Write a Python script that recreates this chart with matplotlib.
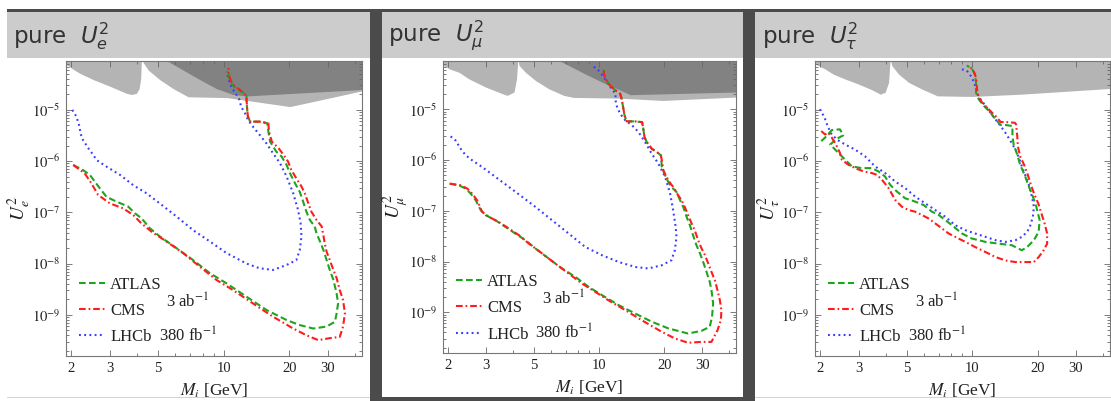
import math
import matplotlib.pyplot as plt
from matplotlib.patches import Rectangle
from matplotlib.lines import Line2D
from matplotlib.ticker import FixedLocator, FixedFormatter, LogLocator, NullFormatter

plt.rcParams['font.family'] = ['Liberation Serif', 'DejaVu Serif']
plt.rcParams['mathtext.fontset'] = 'stix'

# ---- data: (M_i [GeV], U^2) ----
flavours = ['e', r'\mu', r'\tau']
xticks = [2, 3, 5, 10, 20, 30]
yticks = [1e-9, 1e-8, 1e-7, 1e-6, 1e-5]
lumi_hl = r'3 ab$^{-1}$'
lumi_lhcb = r'380 fb$^{-1}$'

# pure U_e^2
e_atlas = [(2.04, 8.4e-7), (2.26, 6.7e-7), (2.43, 5.4e-7), (2.56, 4.0e-7), (2.70, 2.95e-7),
           (2.90, 2.0e-7), (3.22, 1.62e-7), (3.64, 1.3e-7), (3.91, 9.6e-8), (4.19, 7.7e-8),
           (4.58, 4.9e-8), (5.08, 3.4e-8), (6.07, 2.0e-8), (7.23, 1.17e-8), (8.63, 6.5e-9),
           (10.3, 4.1e-9), (12.7, 2.26e-9), (15.7, 1.24e-9), (19.4, 7.9e-10), (22.3, 6.3e-10),
           (25.7, 5.4e-10), (29.6, 5.9e-10), (32.3, 7.3e-10), (32.9, 1.07e-9), (33.4, 1.67e-9),
           (32.9, 2.6e-9), (31.8, 4.8e-9), (30.6, 7.5e-9), (29.6, 1.17e-8), (28.6, 1.85e-8),
           (27.6, 2.7e-8), (26.6, 3.9e-8), (26.1, 5.3e-8), (24.8, 7.1e-8), (23.9, 1.03e-7),
           (23.1, 1.62e-7), (22.3, 2.5e-7), (21.2, 3.7e-7), (20.1, 5.8e-7), (19.4, 8.4e-7),
           (18.4, 1.23e-6), (17.4, 1.53e-6), (16.3, 2.4e-6), (16.0, 3.8e-6), (15.8, 5.5e-6),
           (14.6, 5.9e-6), (13.2, 5.9e-6), (12.9, 7.4e-6), (12.8, 1e-5), (12.7, 1.57e-5),
           (12.7, 2.0e-5), (12.0, 2.3e-5), (11.4, 2.6e-5), (10.8, 3.3e-5), (10.6, 4.2e-5),
           (10.5, 6.5e-5)]
e_cms = [(2.04, 8.4e-7), (2.30, 5.8e-7), (2.47, 3.7e-7), (2.65, 2.2e-7), (3.00, 1.5e-7),
         (3.45, 1.2e-7), (3.84, 8.9e-8), (4.19, 6.1e-8), (4.66, 4.2e-8), (5.46, 2.7e-8),
         (6.51, 1.6e-8), (7.76, 8.7e-9), (9.25, 4.8e-9), (11.0, 3.05e-9), (13.6, 1.67e-9),
         (16.8, 9.2e-10), (20.8, 5.4e-10), (23.9, 4.0e-10), (27.1, 3.2e-10), (30.6, 3.5e-10),
         (34.0, 3.7e-10), (35.2, 5.9e-10), (35.9, 1.07e-9), (35.2, 1.95e-9), (34.0, 3.05e-9),
         (32.9, 5.2e-9), (31.8, 7.5e-9), (30.6, 1.17e-8), (29.6, 1.7e-8), (29.0, 2.5e-8),
         (28.6, 3.6e-8), (28.1, 5.3e-8), (26.6, 7.1e-8), (25.2, 1.03e-7), (24.4, 1.5e-7),
         (23.5, 2.36e-7), (22.7, 3.2e-7), (21.5, 4.6e-7), (20.4, 6.7e-7), (19.7, 9.8e-7),
         (18.8, 1.32e-6), (17.8, 1.8e-6), (16.6, 2.4e-6), (16.1, 3.8e-6), (16.0, 5.5e-6),
         (14.6, 5.9e-6), (13.2, 5.9e-6), (12.9, 7.4e-6), (12.8, 1e-5), (12.7, 1.7e-5),
         (12.5, 2.0e-5), (11.8, 2.5e-5), (11.2, 2.9e-5), (10.8, 3.6e-5), (10.5, 5.2e-5),
         (10.5, 6.5e-5)]
e_lhcb = [(2.02, 1e-5), (2.11, 7.4e-6), (2.18, 4.7e-6), (2.20, 3.5e-6), (2.26, 2.6e-6),
          (2.39, 1.8e-6), (2.52, 1.32e-6), (2.61, 1.05e-6), (2.90, 7.8e-7), (3.34, 5.4e-7),
          (3.84, 3.4e-7), (4.42, 2.36e-7), (5.08, 1.5e-7), (6.07, 8.3e-8), (7.23, 4.5e-8),
          (8.63, 2.7e-8), (10.3, 1.6e-8), (12.7, 1.0e-8), (14.6, 8.1e-9), (16.8, 7.5e-9),
          (19.4, 9.4e-9), (21.5, 1.17e-8), (22.3, 1.85e-8), (22.7, 3.4e-8), (22.5, 6.1e-8),
          (21.9, 1.11e-7), (20.8, 2.36e-7), (19.4, 5.0e-7), (18.1, 9.1e-7), (16.8, 1.43e-6),
          (15.7, 2.2e-6), (14.6, 3.25e-6), (13.6, 4.7e-6), (12.9, 6.4e-6), (12.5, 8.6e-6),
          (12.0, 1.16e-5), (11.8, 1.57e-5), (11.4, 2.0e-5), (11.0, 2.5e-5), (10.7, 3.1e-5),
          (10.5, 4.2e-5), (10.3, 5.6e-5)]
e_excl_light = [(1.88, 7.9e-5), (2.04, 6.2e-5), (2.18, 5.2e-5), (2.52, 3.9e-5), (3.00, 2.9e-5),
                (3.58, 2.1e-5), (3.77, 2.0e-5), (3.97, 2.1e-5), (4.09, 2.6e-5), (4.16, 4.2e-5),
                (4.19, 1e-4), (4.24, 8.8e-5), (4.50, 6.0e-5), (5.08, 3.9e-5), (5.86, 2.6e-5),
                (6.86, 1.8e-5), (10.3, 1.74e-5), (20.1, 1.16e-5), (43, 2.35e-5)]
e_excl_dark = [(5.27, 1e-4), (7.76, 3.9e-5), (9.25, 2.6e-5), (11.0, 2.0e-5), (12.7, 1.87e-5),
               (43, 2.5e-5)]

# pure U_mu^2
mu_atlas = [(2.03, 3.43e-7), (2.24, 3.18e-7), (2.41, 2.74e-7), (2.54, 2.18e-7), (2.68, 1.61e-7),
            (2.83, 1.02e-7), (2.98, 8.2e-8), (3.31, 6.5e-8), (3.68, 4.8e-8), (4.09, 3.56e-8),
            (4.55, 2.63e-8), (5.07, 1.8e-8), (5.84, 1.14e-8), (6.72, 7.3e-9), (7.75, 4.98e-9),
            (8.93, 3.16e-9), (10.3, 2.17e-9), (12.3, 1.38e-9), (14.7, 9.4e-10), (17.5, 6.5e-10),
            (20.9, 4.8e-10), (24.1, 4.1e-10), (25.8, 3.8e-10), (29.8, 4.3e-10), (32.5, 5.15e-10),
            (33.3, 8.1e-10), (33.7, 1.49e-9), (33.1, 2.72e-9), (32.5, 3.97e-9), (31.4, 6.25e-9),
            (30.3, 9.8e-9), (29.3, 1.44e-8), (28.2, 2.1e-8), (27.2, 3.3e-8), (26.3, 5.2e-8),
            (25.4, 7.6e-8), (24.5, 1.19e-7), (23.7, 1.61e-7), (22.8, 2.35e-7), (21.6, 2.95e-7),
            (20.9, 3.7e-7), (20.2, 5.0e-7), (19.5, 7.3e-7), (19.3, 1.24e-6), (18.5, 1.44e-6),
            (17.5, 1.68e-6), (16.6, 2.27e-6), (16.2, 2.85e-6), (16.0, 4.16e-6), (15.8, 5.6e-6),
            (14.7, 5.8e-6), (13.4, 5.8e-6), (13.1, 7.6e-6), (12.9, 1.11e-5), (12.7, 1.62e-5),
            (12.5, 2.04e-5), (11.9, 2.37e-5), (11.2, 2.97e-5), (10.7, 4.0e-5), (10.5, 5.0e-5),
            (10.5, 6.3e-5)]
mu_cms = [(2.03, 3.43e-7), (2.28, 3.18e-7), (2.45, 2.74e-7), (2.58, 2.18e-7), (2.72, 1.61e-7),
          (2.87, 9.5e-8), (3.08, 7.6e-8), (3.43, 6.0e-8), (3.82, 4.46e-8), (4.25, 3.3e-8),
          (4.72, 2.26e-8), (5.44, 1.44e-8), (6.26, 9.1e-9), (7.22, 5.8e-9), (8.32, 3.68e-9),
          (9.59, 2.52e-9), (11.0, 1.73e-9), (13.2, 1.1e-9), (15.7, 7.0e-10), (19.5, 4.1e-10),
          (22.4, 3.04e-10), (25.8, 2.5e-10), (29.8, 2.6e-10), (33.1, 2.6e-10), (35.3, 4.4e-10),
          (36.6, 7.0e-10), (36.8, 1.1e-9), (36.2, 1.73e-9), (35.3, 2.72e-9), (34.3, 4.3e-9),
          (33.1, 6.25e-9), (32.0, 9.1e-9), (30.9, 1.33e-8), (29.8, 1.8e-8), (28.7, 2.63e-8),
          (27.7, 4.14e-8), (26.8, 5.6e-8), (25.8, 8.2e-8), (24.9, 1.19e-7), (24.1, 1.61e-7),
          (23.2, 2.02e-7), (22.3, 2.74e-7), (21.3, 3.54e-7), (20.5, 4.65e-7), (19.8, 6.3e-7),
          (19.5, 9.9e-7), (19.3, 1.24e-6), (18.5, 1.44e-6), (17.5, 1.68e-6), (16.6, 2.27e-6),
          (16.2, 2.85e-6), (16.0, 4.16e-6), (15.8, 5.6e-6), (14.7, 5.8e-6), (13.4, 5.8e-6),
          (13.1, 7.6e-6), (12.9, 1.11e-5), (12.7, 1.62e-5), (12.5, 2.04e-5), (11.9, 2.37e-5),
          (11.2, 2.97e-5), (10.7, 4.0e-5), (10.5, 5.0e-5), (10.5, 6.3e-5)]
mu_lhcb = [(2.05, 2.94e-6), (2.16, 2.45e-6), (2.28, 1.68e-6), (2.41, 1.24e-6), (2.58, 9.9e-7),
           (2.87, 7.3e-7), (3.31, 4.65e-7), (3.82, 2.95e-7), (4.40, 1.88e-7), (5.07, 1.19e-7),
           (6.05, 6.5e-8), (7.22, 3.56e-8), (8.61, 1.94e-8), (10.3, 1.33e-8), (12.3, 9.8e-9),
           (14.7, 7.8e-9), (16.9, 7.3e-9), (19.5, 8.45e-9), (21.6, 1.06e-8), (22.4, 1.67e-8),
           (22.8, 3.06e-8), (22.6, 4.8e-8), (22.0, 1.02e-7), (21.3, 2.18e-7), (20.2, 4.65e-7),
           (18.8, 8.5e-7), (17.5, 1.34e-6), (16.3, 2.27e-6), (15.2, 3.58e-6), (14.2, 4.84e-6),
           (13.2, 6.1e-6), (12.5, 8.2e-6), (12.1, 1.11e-5), (11.9, 1.5e-5), (11.9, 2.04e-5),
           (11.4, 2.55e-5), (11.0, 3.2e-5), (10.5, 4.3e-5), (9.93, 5.85e-5), (9.25, 7.4e-5)]
mu_excl_light = [(1.87, 7.7e-5), (2.02, 6.3e-5), (2.24, 5.4e-5), (2.49, 4.0e-5), (2.98, 2.75e-5),
                 (3.56, 2.04e-5), (3.75, 1.89e-5), (4.03, 2.2e-5), (4.14, 4.0e-5), (4.20, 1e-4),
                 (4.25, 7.4e-5), (4.55, 5.4e-5), (5.07, 3.7e-5), (5.84, 2.55e-5), (6.84, 1.89e-5),
                 (7.62, 1.72e-5), (12.3, 1.67e-5), (19.7, 1.5e-5), (43, 1.75e-5)]
mu_excl_dark = [(6.27, 1e-4), (8.61, 5.0e-5), (10.3, 3.45e-5), (12.1, 2.55e-5), (13.9, 1.95e-5),
                (43, 2.2e-5)]

# pure U_tau^2
tau_atlas = [(2.02, 2.46e-6), (2.10, 2.86e-6), (2.26, 4.04e-6), (2.46, 4.17e-6), (2.55, 3.18e-6),
             (2.38, 2.73e-6), (2.22, 2.11e-6), (2.42, 1.45e-6), (2.60, 1.07e-6), (2.79, 7.9e-7),
             (3.10, 7.3e-7), (3.45, 7.3e-7), (3.70, 6.3e-7), (3.97, 5.0e-7), (4.19, 3.45e-7),
             (4.50, 2.55e-7), (4.91, 1.88e-7), (5.46, 1.62e-7), (5.97, 1.39e-7), (6.52, 1.03e-7),
             (7.00, 8.9e-8), (7.51, 7.1e-8), (8.06, 5.6e-8), (8.96, 3.87e-8), (9.96, 3.08e-8),
             (11.5, 2.65e-8), (13.2, 2.45e-8), (15.2, 2.28e-8), (16.9, 1.82e-8), (17.9, 2.11e-8),
             (19.2, 2.86e-8), (20.2, 4.17e-8), (20.4, 7.1e-8), (19.7, 1.29e-7), (19.0, 2.03e-7),
             (18.2, 3.2e-7), (17.4, 5.4e-7), (16.6, 8.5e-7), (16.1, 1.34e-6), (15.5, 2.11e-6),
             (15.3, 3.08e-6), (15.3, 4.84e-6), (14.2, 5.07e-6), (13.5, 5.07e-6), (12.8, 6.5e-6),
             (12.1, 8.9e-6), (11.3, 1.2e-5), (10.7, 1.62e-5), (10.4, 2.2e-5), (10.4, 3.45e-5),
             (10.3, 5.0e-5), (9.96, 6.3e-5), (9.44, 7.35e-5)]
tau_cms = [(2.02, 3.86e-6), (2.10, 3.32e-6), (2.18, 3.58e-6), (2.26, 2.86e-6), (2.38, 1.96e-6),
           (2.46, 1.45e-6), (2.51, 1.07e-6), (2.69, 8.5e-7), (2.89, 7.3e-7), (3.16, 6.3e-7),
           (3.45, 5.85e-7), (3.64, 5.4e-7), (3.84, 4.33e-7), (4.12, 2.97e-7), (4.42, 1.75e-7),
           (4.74, 1.29e-7), (5.09, 1.11e-7), (5.46, 1.03e-7), (5.86, 8.9e-8), (6.29, 7.6e-8),
           (6.75, 6.1e-8), (7.25, 4.84e-8), (7.78, 3.87e-8), (8.35, 3.32e-8), (9.29, 2.65e-8),
           (10.3, 2.11e-8), (11.5, 1.68e-8), (12.8, 1.34e-8), (14.2, 1.15e-8), (15.8, 1.07e-8),
           (17.5, 1.07e-8), (19.2, 1.07e-8), (20.2, 1.34e-8), (21.3, 1.82e-8), (22.1, 2.45e-8),
           (22.1, 3.87e-8), (21.5, 6.1e-8), (20.8, 9.5e-8), (20.1, 1.5e-7), (19.2, 2.36e-7),
           (18.5, 3.72e-7), (17.9, 5.85e-7), (17.3, 8.5e-7), (16.6, 1.24e-6), (16.2, 1.96e-6),
           (16.1, 3.08e-6), (15.9, 5.2e-6), (15.7, 5.6e-6), (14.2, 5.8e-6), (13.5, 5.8e-6),
           (13.0, 7.1e-6), (12.3, 8.9e-6), (11.7, 1.11e-5), (11.1, 1.39e-5), (10.6, 1.88e-5),
           (10.5, 2.76e-5), (10.4, 4.3e-5), (10.1, 5.85e-5), (9.80, 6.8e-5)]
tau_lhcb = [(1.99, 1.03e-5), (2.09, 7.1e-6), (2.16, 4.84e-6), (2.24, 3.48e-6), (2.38, 2.65e-6),
            (2.60, 2.11e-6), (2.89, 1.68e-6), (3.21, 1.24e-6), (3.57, 7.9e-7), (3.97, 5.85e-7),
            (4.42, 4.0e-7), (4.91, 2.97e-7), (5.46, 2.03e-7), (6.07, 1.5e-7), (6.75, 1.11e-7),
            (7.51, 8.2e-8), (8.35, 5.6e-8), (9.29, 4.49e-8), (10.3, 3.87e-8), (11.5, 3.32e-8),
            (12.8, 2.86e-8), (14.2, 2.65e-8), (15.8, 2.86e-8), (16.9, 3.32e-8), (17.9, 4.17e-8),
            (18.5, 5.6e-8), (19.0, 8.2e-8), (19.2, 1.29e-7), (18.8, 2.03e-7), (18.2, 3.45e-7),
            (17.5, 5.4e-7), (16.9, 7.9e-7), (16.4, 1.15e-6), (15.8, 1.68e-6), (15.0, 2.46e-6),
            (14.2, 3.58e-6), (13.5, 4.84e-6), (12.8, 6.5e-6), (12.1, 8.9e-6), (11.5, 1.2e-5),
            (10.9, 1.62e-5), (10.5, 2.2e-5), (10.3, 3.0e-5), (9.96, 4.3e-5), (9.44, 5.85e-5),
            (8.81, 6.3e-5)]
tau_excl_light = [(1.89, 7.9e-5), (2.10, 6.3e-5), (2.29, 5.0e-5), (2.60, 4.0e-5), (2.99, 3.2e-5),
                  (3.45, 2.47e-5), (3.77, 2.03e-5), (3.97, 2.2e-5), (4.12, 3.45e-5), (4.19, 1e-4),
                  (4.26, 7.35e-5), (4.58, 5.0e-5), (5.09, 3.45e-5), (5.86, 2.55e-5), (6.90, 1.88e-5),
                  (9.96, 1.83e-5), (16.9, 2.03e-5), (43.7, 2.63e-5)]

atlas = [e_atlas, mu_atlas, tau_atlas]
cms = [e_cms, mu_cms, tau_cms]
lhcb = [e_lhcb, mu_lhcb, tau_lhcb]
excl_light = [e_excl_light, mu_excl_light, tau_excl_light]
excl_dark = [e_excl_dark, mu_excl_dark, None]

# ---- layout in pixels ----
W, H = 1111, 401
fig = plt.figure(figsize=(W / 100, H / 100), dpi=100)


def rect(x0, y0, x1, y1, c):
    fig.add_artist(Rectangle((x0 / W, 1 - y1 / H), (x1 - x0) / W, (y1 - y0) / H,
                             transform=fig.transFigure, facecolor=c, edgecolor='none', zorder=0))


dark = '#4b4b4b'
rect(7, 9, W, 12, dark)
for x0, x1 in [(7, 370), (382, 743), (755, W)]:
    rect(x0, 12, x1, 58, '#cccccc')
    rect(x0, 397, x1, 398, '#d4d4d4')
rect(370, 9, 382, H, dark)
rect(743, 9, 755, H, dark)
rect(382, 397, 743, H, dark)

header_x = [13, 388, 762]
axes_px = [(66, 61, 362, 356), (443, 61, 736, 353), (815, 61, 1110, 356)]

styles = {
    'ATLAS': dict(color='#1ea51e', ls=(0, (3.2, 1.6)), lw=1.5),
    'CMS': dict(color='#ff1c1c', ls=(0, (3.2, 1.4, 0.8, 1.4)), lw=1.5),
    'LHCb': dict(color='#3c3cff', ls=(0, (0.9, 1.6)), lw=1.5),
}

for i in range(3):
    l, t, r, b = axes_px[i]
    ax = fig.add_axes([l / W, 1 - b / H, (r - l) / W, (b - t) / H])
    ax.set_xscale('log')
    ax.set_yscale('log')

    lm, lu = zip(*excl_light[i])
    ax.fill_between(lm, lu, 1, color='#b4b4b4', lw=0, zorder=1)
    if excl_dark[i] is not None:
        dm, du = zip(*excl_dark[i])
        ax.fill_between(dm, du, 1, color='#828282', lw=0, zorder=1)

    for name, pts in [('LHCb', lhcb[i]), ('ATLAS', atlas[i]), ('CMS', cms[i])]:
        m, u = zip(*pts)
        ax.plot(m, u, zorder=3, **styles[name])

    ax.set_xlim(1.89, 43)
    ax.set_ylim(1.57e-10, 9e-5)

    ax.xaxis.set_major_locator(FixedLocator(xticks))
    ax.xaxis.set_major_formatter(FixedFormatter([str(v) for v in xticks]))
    ax.xaxis.set_minor_locator(LogLocator(base=10, subs=(1, 2, 3, 4, 5, 6, 7, 8, 9), numticks=20))
    ax.xaxis.set_minor_formatter(NullFormatter())
    ax.yaxis.set_major_locator(FixedLocator(yticks))
    ax.yaxis.set_major_formatter(FixedFormatter([r'$10^{%d}$' % round(math.log10(v)) for v in yticks]))
    ax.yaxis.set_minor_locator(LogLocator(base=10, subs=(2, 3, 4, 5, 6, 7, 8, 9), numticks=20))
    ax.yaxis.set_minor_formatter(NullFormatter())
    ax.tick_params(which='both', direction='in', top=True, right=True, color='#666666',
                   labelsize=10.5, labelcolor='#222222', width=0.6)
    ax.tick_params(which='major', length=4.5, pad=4)
    ax.tick_params(which='minor', length=2.2)
    for s in ax.spines.values():
        s.set_color('#777777')
        s.set_linewidth(0.8)

    ax.set_xlabel(r'$M_i$ [GeV]', fontsize=12.5, color='#222222', labelpad=5)
    ax.set_ylabel(r'$U_{%s}^2$' % flavours[i], fontsize=14, color='#222222')
    ax.yaxis.set_label_coords(-0.11, 0.5)

    handles = [Line2D([], [], **styles[n]) for n in ['ATLAS', 'CMS', 'LHCb']]
    ax.legend(handles, ['ATLAS', 'CMS', 'LHCb'], loc='center left', bbox_to_anchor=(0.045, 0.153),
              frameon=False, fontsize=12, handlelength=1.55, handletextpad=0.3,
              labelspacing=0.62, borderpad=0, borderaxespad=0, labelcolor='#222222')
    ax.text(0.412, 0.183, lumi_hl, transform=ax.transAxes, ha='center', va='center',
            fontsize=12, color='#222222')
    ax.text(0.412, 0.068, lumi_lhcb, transform=ax.transAxes, ha='center', va='center',
            fontsize=12, color='#222222')

    fig.text(header_x[i] / W, 1 - 36 / H, r'pure  $U_{%s}^{2}$' % flavours[i], fontsize=16.5,
             family='DejaVu Sans', math_fontfamily='dejavusans', va='center', color='#333333')

fig.savefig('out.png', dpi=100, facecolor='white')
